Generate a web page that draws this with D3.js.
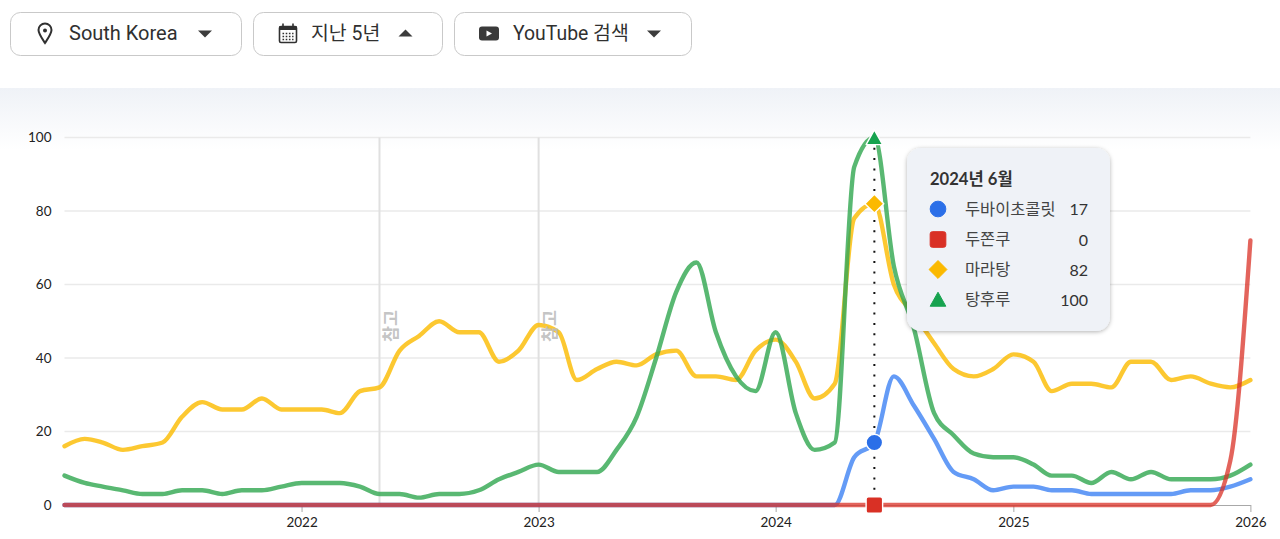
<!DOCTYPE html>
<html><head><meta charset="utf-8">
<script src="https://cdn.jsdelivr.net/npm/d3@7"></script>
<style>
html,body{margin:0;padding:0;background:#fff;overflow:hidden}
svg{display:block}
text{font-family:"Lato","Noto Sans CJK KR",sans-serif}
</style></head><body><svg id="c" width="1280" height="539"></svg>
<script>
const startYear = 2021, months = 61;
const yTicks = [0,20,40,60,80,100];
const xTickYears = [2022,2023,2024,2025,2026];
const seriesNames = ["두바이초콜릿","두쫀쿠","마라탕","탕후루"];
const seriesColors = ["#4285f4","#d93025","#fbbc04","#34a853"];
const seriesOpacity = [.82,.75,.82,.82];
const markerColors = ["#2b6fe8","#d93025","#fbb900","#16a34f"];
const dubai = [0,0,0,0,0,0,0,0,0,0,0,0, 0,0,0,0,0,0,0,0,0,0,0,0, 0,0,0,0,0,0,0,0,0,0,0,0, 0,0,0,0,13,17,35,27,18,9,7,4, 5,5,4,4,3,3,3,3,3,4,4,5,7];
const dujjonku = [0,0,0,0,0,0,0,0,0,0,0,0, 0,0,0,0,0,0,0,0,0,0,0,0, 0,0,0,0,0,0,0,0,0,0,0,0, 0,0,0,0,0,0,0,0,0,0,0,0, 0,0,0,0,0,0,0,0,0,0,0,12,72];
const malatang = [16,18,17,15,16,17,24,28,26,26,29,26, 26,26,25,31,32,42,46,50,47,47,39,42, 49,47,34,37,39,38,41,42,35,35,34,42, 45,39,29,33,78,82,60,52,44,37,35,37, 41,39,31,33,33,32,39,39,34,35,33,32,34];
const tanghulu = [8,6,5,4,3,3,4,4,3,4,4,5, 6,6,6,5,3,3,2,3,3,4,7,9, 11,9,9,9,15,24,40,58,66,47,35,31, 47,25,15,17,92,100,65,48,25,19,14,13, 13,11,8,8,6,9,7,9,7,7,7,8,11];
const noteMonths = [[2022,4],[2023,0]];
const noteLabel = "참고";
const hoverIndex = 41;
const hoverTitle = "2024년 6월";
const buttonLabels = ["South Korea","지난 5년","YouTube 검색"];

const svg = d3.select("#c");
const defs = svg.append("defs");
const g = defs.append("linearGradient").attr("id","bg").attr("x1",0).attr("x2",0).attr("y1",0).attr("y2",1);
g.append("stop").attr("offset",0).attr("stop-color","#eff2f7");
g.append("stop").attr("offset",1).attr("stop-color","#ffffff");
const f = defs.append("filter").attr("id","sh").attr("x","-10%").attr("y","-10%").attr("width","120%").attr("height","120%");
f.append("feDropShadow").attr("dx",0).attr("dy",1).attr("stdDeviation",2.2).attr("flood-color","#000").attr("flood-opacity",0.3);
svg.append("rect").attr("x",0).attr("y",88).attr("width",1280).attr("height",62).attr("fill","url(#bg)");

// buttons
[[10.5,231],[253.5,189],[454.5,237]].forEach(([x,w])=>svg.append("rect").attr("x",x).attr("y",12.5).attr("width",w).attr("height",43).attr("rx",10).attr("fill","#fff").attr("stroke","#c9c9c9"));
[[69,20],[311,19.4],[513,19.4]].forEach(([x,fs],i)=>svg.append("text").attr("x",x).attr("y",39.5).attr("fill","#303030").attr("font-size",fs).attr("style","font-family:Roboto,'Noto Sans CJK KR'").text(buttonLabels[i]));
const tri=(x,y,up)=>svg.append("path").attr("fill","#3c3c3c").attr("d",up?`M${x-7},${y+3.5}L${x+7},${y+3.5}L${x},${y-3.5}Z`:`M${x-7},${y-3.5}L${x+7},${y-3.5}L${x},${y+3.5}Z`);
tri(205,34,false);tri(405.5,33,true);tri(654,34,false);
svg.append("path").attr("fill","none").attr("stroke","#303030").attr("stroke-width",2).attr("d","M45,43 C41,37 38.5,33.5 38.5,30 A6.5,6.5 0 0 1 51.5,30 C51.5,33.5 49,37 45,43Z");
svg.append("circle").attr("cx",45).attr("cy",30.5).attr("r",2).attr("fill","#303030");
svg.append("rect").attr("x",279.5).attr("y",26.5).attr("width",17).attr("height",16).attr("rx",1.5).attr("fill","none").attr("stroke","#303030").attr("stroke-width",1.6);
svg.append("rect").attr("x",279.5).attr("y",26).attr("width",17).attr("height",4).attr("fill","#303030");
svg.append("path").attr("stroke","#303030").attr("stroke-width",1.6).attr("d","M283,23.5V27M293,23.5V27");
svg.append("path").attr("stroke","#303030").attr("stroke-width",1.4).attr("stroke-dasharray","1.6 1.6").attr("d","M282.5,33.5H293.5M282.5,36.5H293.5M282.5,39.5H293.5");
svg.append("rect").attr("x",479).attr("y",26.5).attr("width",20).attr("height",14).attr("rx",3).attr("fill","#3a3a3a");
svg.append("path").attr("fill","#fff").attr("d","M486.5,30.5L486.5,36.5L492,33.5Z");

const monthDate = i => new Date(startYear,i,1);
const x = d3.scaleTime().domain([monthDate(0),monthDate(months-1)]).range([64.5,1250.4]);
const y = d3.scaleLinear().domain([0,100]).range([505,137.5]);

svg.append("g").selectAll("line").data(yTicks.filter(d=>d>0)).join("line")
 .attr("x1",x(monthDate(0))).attr("x2",x(monthDate(months-1))).attr("y1",d=>y(d)).attr("y2",d=>y(d)).attr("stroke","#eaeaea").attr("stroke-width",1.5);
svg.append("g").attr("font-size",13.5).attr("fill","#222").selectAll("text").data(yTicks).join("text")
 .attr("x",51.5).attr("y",d=>y(d)+4.5).attr("text-anchor","end").text(d=>d);

const axis = d3.axisBottom(x).tickValues(xTickYears.map(v=>new Date(v,0,1))).tickFormat(d3.timeFormat("%Y")).tickSizeInner(7).tickSizeOuter(0).tickPadding(5);
const ax = svg.append("g").attr("transform",`translate(0,${y(0)})`).call(axis);
ax.select(".domain").attr("stroke","#a8a8a8");
ax.selectAll("line").attr("stroke","#a8a8a8");
ax.selectAll("text").attr("font-size",13.5).attr("fill","#222").attr("font-family","Lato");

noteMonths.forEach(([yr,m])=>{
  const nx = x(new Date(yr,m,1));
  svg.append("line").attr("x1",nx).attr("x2",nx).attr("y1",y(100)).attr("y2",y(0)).attr("stroke","#e0e0e0").attr("stroke-width",2);
});

const line = d3.line().x((d,i)=>x(monthDate(i))).y(d=>y(d)).curve(d3.curveMonotoneX);
const drawOrder=[2,3,0,1];
const seriesValues=[dubai,dujjonku,malatang,tanghulu];
const lineG = svg.append("g").attr("fill","none").attr("stroke-width",4.4).attr("stroke-linejoin","round").attr("stroke-linecap","round");
drawOrder.forEach(k=>lineG.append("path").attr("d",line(seriesValues[k])).attr("stroke",seriesColors[k]).attr("stroke-opacity",seriesOpacity[k]));

noteMonths.forEach(([yr,m])=>{
  const nx = x(new Date(yr,m,1));
  svg.append("text").attr("transform",`translate(${nx+17.5},${y(0)-163}) rotate(-90)`).attr("font-size",17.5).attr("font-weight",700).attr("fill","#bdbdbd").attr("fill-opacity",.9).attr("style","font-family:'Noto Sans CJK KR'").text(noteLabel);
});

const hx = x(monthDate(hoverIndex));
svg.append("line").attr("x1",hx).attr("x2",hx).attr("y1",y(100)).attr("y2",y(0)).attr("stroke","#111").attr("stroke-width",2).attr("stroke-dasharray","2 8.3");

const values=seriesValues.map(s=>s[hoverIndex]);
function marker(i,cx,cy,s,halo){
  const sel = i===0 ? svg.append("circle").attr("cx",cx).attr("cy",cy).attr("r",7*s)
    : i===1 ? svg.append("rect").attr("x",cx-7*s).attr("y",cy-7*s).attr("width",14*s).attr("height",14*s).attr("rx",2*s)
    : i===2 ? svg.append("path").attr("d",`M${cx},${cy-8*s}L${cx+8*s},${cy}L${cx},${cy+8*s}L${cx-8*s},${cy}Z`)
    : svg.append("path").attr("d",`M${cx},${cy-6.5*s}L${cx+7*s},${cy+6*s}L${cx-7*s},${cy+6*s}Z`);
  sel.attr("fill",markerColors[i]).attr("stroke",markerColors[i]).attr("stroke-width",1).attr("stroke-linejoin","round");
  if(halo) sel.attr("stroke","#fff").attr("stroke-width",1.4);
}
values.forEach((v,i)=>marker(i,hx,y(v),1.18,true));

svg.append("rect").attr("x",907).attr("y",148).attr("width",203).attr("height",183).attr("rx",14).attr("fill","#eff2f7").attr("filter","url(#sh)");
svg.append("text").attr("x",930).attr("y",185).attr("font-size",16.6).attr("font-weight",700).attr("fill","#333").text(hoverTitle);
seriesNames.forEach((n,i)=>{
  const ty=[209,239.5,269.5,299.5][i];
  marker(i,938,ty,1.12,false);
  svg.append("text").attr("x",965).attr("y",ty+5.5).attr("font-size",16.4).attr("fill","#444").text(n);
  svg.append("text").attr("x",1088).attr("y",ty+6).attr("text-anchor","end").attr("font-size",16).attr("fill","#333").text(values[i]);
});
</script></body></html>
